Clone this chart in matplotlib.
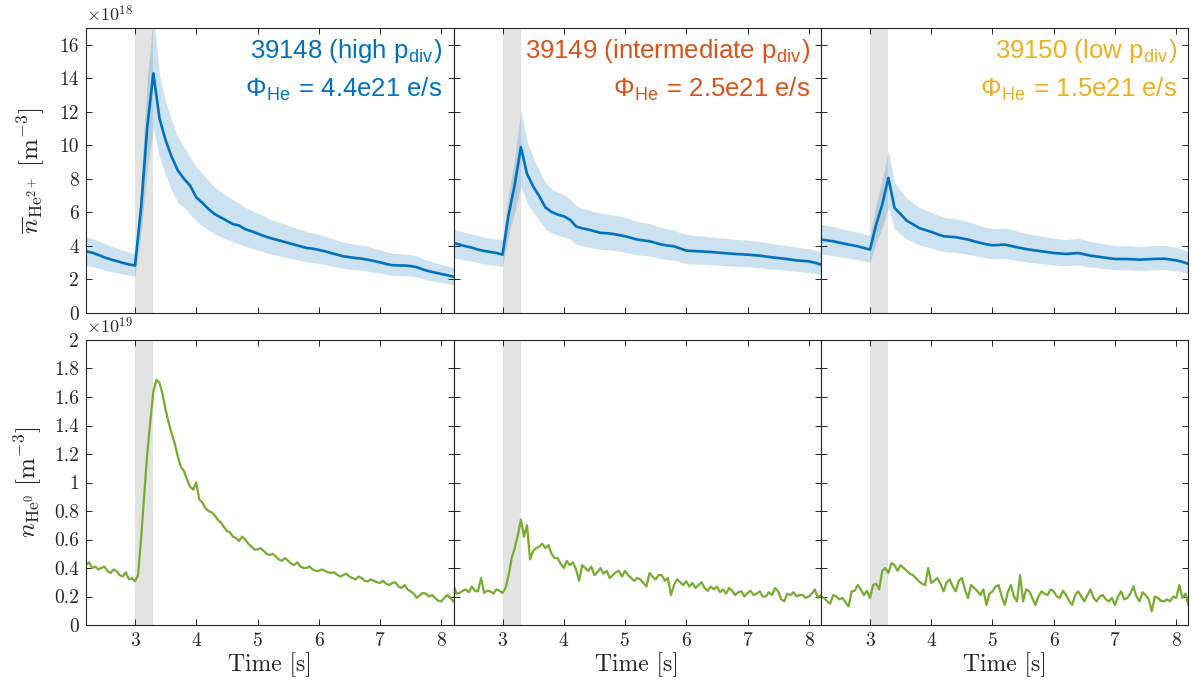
import numpy as np
import matplotlib
matplotlib.use("Agg")
import matplotlib.pyplot as plt

# ---------------- data ----------------
shots = ["39148", "39149", "39150"]
pdiv_labels = ["high", "intermediate", "low"]
flux_labels = ["4.4e21", "2.5e21", "1.5e21"]
text_colors = ["#0072BD", "#D95319", "#EDB120"]

t_start, t_end = 2.2, 8.2
puff_start, puff_end = 3.0, 3.3

# He2+ line-averaged density, units of 1e18 m^-3, sampled every 0.1 s from 2.2 s
he2_39148 = [3.68, 3.60, 3.47, 3.32, 3.20, 3.10, 2.99, 2.90, 2.83, 6.3, 11.1, 14.3, 11.6, 10.3, 9.3,
             8.5, 8.0, 7.6, 6.9, 6.57, 6.2, 5.9, 5.7, 5.5, 5.3, 5.22, 5.0, 4.88, 4.74, 4.6, 4.48,
             4.38, 4.28, 4.18, 4.08, 3.98, 3.88, 3.84, 3.76, 3.68, 3.58, 3.48, 3.38, 3.33, 3.28,
             3.24, 3.18, 3.10, 3.02, 2.93, 2.85, 2.84, 2.83, 2.80, 2.73, 2.60, 2.49, 2.41, 2.33,
             2.25, 2.17]
he2_39148_hi = [4.55, 4.45, 4.3, 4.15, 4.0, 3.88, 3.75, 3.63, 3.55, 7.9, 13.9, 17.8, 14.2, 12.6, 11.5,
                10.5, 9.9, 9.3, 8.7, 8.3, 7.9, 7.5, 7.25, 7.0, 6.75, 6.55, 6.3, 6.15, 5.95, 5.8, 5.6,
                5.48, 5.35, 5.22, 5.1, 4.98, 4.85, 4.78, 4.7, 4.58, 4.47, 4.35, 4.22, 4.15, 4.1,
                4.04, 3.97, 3.87, 3.77, 3.66, 3.56, 3.54, 3.52, 3.48, 3.4, 3.25, 3.12, 3.0, 2.9,
                2.8, 2.72]
he2_39148_lo = [2.85, 2.78, 2.68, 2.57, 2.48, 2.4, 2.32, 2.25, 2.2, 4.8, 8.6, 11.0, 9.3, 8.2, 7.3,
                6.6, 6.3, 5.9, 5.5, 5.2, 4.95, 4.7, 4.55, 4.38, 4.25, 4.12, 3.98, 3.87, 3.76, 3.64,
                3.53, 3.45, 3.37, 3.29, 3.21, 3.13, 3.05, 3.02, 2.97, 2.9, 2.82, 2.74, 2.66, 2.62,
                2.58, 2.55, 2.5, 2.44, 2.38, 2.31, 2.24, 2.23, 2.22, 2.2, 2.15, 2.05, 1.96, 1.9,
                1.83, 1.77, 1.7]

he2_39149 = [4.18, 4.08, 3.98, 3.90, 3.78, 3.70, 3.64, 3.58, 3.48, 5.87, 7.66, 9.9, 8.3, 7.56, 6.97,
             6.3, 6.03, 5.87, 5.77, 5.57, 5.17, 5.05, 4.98, 4.88, 4.78, 4.76, 4.72, 4.65, 4.58,
             4.48, 4.38, 4.33, 4.28, 4.18, 4.08, 4.02, 3.98, 3.85, 3.72, 3.70, 3.68, 3.66, 3.64,
             3.61, 3.58, 3.55, 3.52, 3.50, 3.48, 3.45, 3.42, 3.37, 3.32, 3.28, 3.24, 3.19, 3.14,
             3.11, 3.08, 3.0, 2.89]
he2_39149_hi = [5.0, 4.9, 4.8, 4.72, 4.6, 4.52, 4.46, 4.42, 4.35, 7.1, 9.3, 12.1, 10.2, 9.3, 8.5,
                7.8, 7.4, 7.2, 7.05, 6.8, 6.4, 6.25, 6.15, 6.05, 5.95, 5.9, 5.85, 5.78, 5.7, 5.58,
                5.46, 5.4, 5.33, 5.2, 5.08, 5.0, 4.95, 4.8, 4.68, 4.64, 4.6, 4.57, 4.54, 4.5, 4.47,
                4.43, 4.4, 4.37, 4.35, 4.3, 4.27, 4.2, 4.14, 4.08, 4.04, 3.98, 3.92, 3.88, 3.84,
                3.75, 3.65]
he2_39149_lo = [3.3, 3.22, 3.15, 3.08, 3.0, 2.93, 2.88, 2.83, 2.75, 4.6, 6.0, 7.6, 6.6, 6.0, 5.55,
                5.0, 4.8, 4.65, 4.55, 4.4, 4.1, 4.0, 3.95, 3.87, 3.8, 3.78, 3.75, 3.7, 3.63, 3.55,
                3.47, 3.43, 3.4, 3.31, 3.23, 3.18, 3.15, 3.05, 2.95, 2.93, 2.91, 2.9, 2.88, 2.86,
                2.83, 2.81, 2.79, 2.77, 2.75, 2.73, 2.7, 2.66, 2.62, 2.59, 2.56, 2.52, 2.48, 2.46,
                2.43, 2.37, 2.28]

he2_39150 = [4.38, 4.33, 4.28, 4.20, 4.12, 4.05, 3.98, 3.88, 3.78, 5.27, 6.47, 8.06, 6.27, 5.9, 5.5,
             5.3, 5.07, 4.95, 4.84, 4.70, 4.58, 4.55, 4.52, 4.45, 4.38, 4.28, 4.18, 4.10, 4.04,
             4.06, 4.08, 4.00, 3.92, 3.85, 3.78, 3.73, 3.68, 3.63, 3.58, 3.55, 3.52, 3.55, 3.58,
             3.50, 3.42, 3.37, 3.32, 3.27, 3.22, 3.22, 3.22, 3.20, 3.18, 3.20, 3.22, 3.23, 3.24,
             3.19, 3.14, 3.05, 2.92]
he2_39150_hi = [5.3, 5.22, 5.15, 5.05, 4.98, 4.9, 4.82, 4.72, 4.6, 6.5, 7.9, 9.7, 7.8, 7.3, 6.85,
                6.6, 6.3, 6.15, 6.0, 5.85, 5.7, 5.66, 5.62, 5.54, 5.45, 5.33, 5.2, 5.1, 5.03, 5.05,
                5.07, 4.98, 4.88, 4.8, 4.7, 4.64, 4.58, 4.52, 4.46, 4.42, 4.38, 4.42, 4.45, 4.36,
                4.26, 4.2, 4.13, 4.07, 4.01, 4.01, 4.01, 3.98, 3.96, 3.98, 4.01, 4.02, 4.03, 3.97,
                3.91, 3.8, 3.64]
he2_39150_lo = [3.5, 3.46, 3.42, 3.36, 3.3, 3.24, 3.18, 3.1, 3.02, 4.2, 5.1, 6.3, 5.0, 4.7, 4.4,
                4.24, 4.05, 3.96, 3.87, 3.76, 3.66, 3.64, 3.61, 3.56, 3.5, 3.42, 3.34, 3.28, 3.23,
                3.25, 3.26, 3.2, 3.14, 3.08, 3.02, 2.98, 2.94, 2.9, 2.86, 2.84, 2.82, 2.84, 2.86,
                2.8, 2.74, 2.7, 2.66, 2.62, 2.58, 2.58, 2.58, 2.56, 2.54, 2.56, 2.58, 2.58, 2.59,
                2.55, 2.51, 2.44, 2.34]

# He0 density, units of 1e19 m^-3, sampled every 0.05 s from 2.2 s
he0_39148 = [0.42, 0.44, 0.40, 0.41, 0.39, 0.40, 0.41, 0.38, 0.365, 0.39, 0.377, 0.35, 0.34, 0.37,
             0.32, 0.33, 0.306, 0.35, 0.61, 0.91, 1.20, 1.43, 1.64, 1.72, 1.70, 1.62, 1.51, 1.42,
             1.34, 1.27, 1.18, 1.11, 1.08, 1.02, 0.97, 0.95, 1.00, 0.88, 0.86, 0.82, 0.80, 0.79,
             0.77, 0.74, 0.72, 0.69, 0.66, 0.65, 0.62, 0.61, 0.59, 0.62, 0.60, 0.57, 0.55, 0.53,
             0.53, 0.54, 0.52, 0.50, 0.49, 0.50, 0.48, 0.46, 0.45, 0.47, 0.45, 0.43, 0.42, 0.44,
             0.41, 0.40, 0.40, 0.41, 0.39, 0.38, 0.38, 0.39, 0.38, 0.37, 0.365, 0.37, 0.353, 0.34,
             0.35, 0.36, 0.34, 0.33, 0.32, 0.34, 0.33, 0.31, 0.306, 0.32, 0.31, 0.30, 0.295, 0.31,
             0.29, 0.28, 0.295, 0.30, 0.27, 0.26, 0.28, 0.25, 0.236, 0.22, 0.19, 0.21, 0.225, 0.22,
             0.20, 0.21, 0.19, 0.17, 0.166, 0.19, 0.21, 0.19, 0.166]
he0_39149 = [0.28, 0.22, 0.225, 0.24, 0.25, 0.23, 0.27, 0.24, 0.236, 0.33, 0.225, 0.24, 0.236, 0.22,
             0.25, 0.24, 0.225, 0.26, 0.35, 0.47, 0.54, 0.63, 0.74, 0.62, 0.70, 0.46, 0.52, 0.54,
             0.55, 0.57, 0.54, 0.56, 0.50, 0.47, 0.47, 0.43, 0.40, 0.45, 0.42, 0.44, 0.39, 0.31,
             0.42, 0.40, 0.38, 0.41, 0.35, 0.37, 0.40, 0.36, 0.38, 0.33, 0.35, 0.37, 0.38, 0.34,
             0.38, 0.35, 0.33, 0.31, 0.33, 0.32, 0.295, 0.27, 0.365, 0.34, 0.32, 0.35, 0.35, 0.31,
             0.33, 0.21, 0.28, 0.32, 0.30, 0.28, 0.306, 0.27, 0.295, 0.26, 0.28, 0.30, 0.26, 0.24,
             0.27, 0.25, 0.27, 0.23, 0.25, 0.22, 0.26, 0.24, 0.21, 0.23, 0.236, 0.20, 0.225, 0.24,
             0.21, 0.22, 0.236, 0.20, 0.20, 0.23, 0.21, 0.26, 0.236, 0.18, 0.166, 0.22, 0.21, 0.23,
             0.20, 0.21, 0.21, 0.19, 0.20, 0.22, 0.25, 0.19, 0.21]
he0_39150 = [0.20, 0.19, 0.166, 0.15, 0.21, 0.20, 0.18, 0.19, 0.16, 0.13, 0.236, 0.24, 0.28, 0.25,
             0.21, 0.24, 0.19, 0.28, 0.29, 0.25, 0.38, 0.40, 0.365, 0.435, 0.42, 0.38, 0.42, 0.40,
             0.38, 0.36, 0.35, 0.33, 0.306, 0.29, 0.28, 0.40, 0.295, 0.31, 0.33, 0.29, 0.236, 0.30,
             0.32, 0.27, 0.236, 0.31, 0.33, 0.25, 0.19, 0.28, 0.26, 0.24, 0.21, 0.25, 0.14, 0.22,
             0.236, 0.27, 0.28, 0.20, 0.14, 0.23, 0.28, 0.20, 0.166, 0.35, 0.166, 0.25, 0.236, 0.19,
             0.14, 0.20, 0.236, 0.22, 0.21, 0.25, 0.236, 0.20, 0.19, 0.24, 0.21, 0.17, 0.14, 0.21,
             0.236, 0.20, 0.166, 0.21, 0.25, 0.19, 0.166, 0.20, 0.21, 0.18, 0.166, 0.19, 0.14, 0.20,
             0.236, 0.18, 0.19, 0.22, 0.27, 0.20, 0.166, 0.23, 0.21, 0.18, 0.096, 0.20, 0.19, 0.17,
             0.166, 0.18, 0.166, 0.20, 0.19, 0.28, 0.19, 0.22, 0.14]

top_yticks = [0, 2, 4, 6, 8, 10, 12, 14, 16]
bot_yticks = [0, 0.2, 0.4, 0.6, 0.8, 1.0, 1.2, 1.4, 1.6, 1.8, 2.0]
xticks = [3, 4, 5, 6, 7, 8]

he2_lines = [he2_39148, he2_39149, he2_39150]
he2_hi = [he2_39148_hi, he2_39149_hi, he2_39150_hi]
he2_lo = [he2_39148_lo, he2_39149_lo, he2_39150_lo]
he0_lines = [he0_39148, he0_39149, he0_39150]

# ---------------- style ----------------
plt.rcParams["font.family"] = "serif"
plt.rcParams["font.serif"] = ["cmr10", "DejaVu Serif"]
plt.rcParams["mathtext.fontset"] = "cm"
plt.rcParams["axes.formatter.use_mathtext"] = True
plt.rcParams["axes.unicode_minus"] = False

BLUE = "#0072BD"
GREEN = "#77AC30"
GREY = "#E3E3E3"
AXC = "#262626"

W, H = 1192, 687
fig = plt.figure(figsize=(W / 100, H / 100), dpi=100)

col_left = [86, 453.5, 821]
col_w = 367.5
row_top = [28, 340]
row_h = 285


def fmt(v):
    return f"{v:g}"


for i in range(3):
    for r in range(2):
        x0 = col_left[i]
        y0 = row_top[r]
        ax = fig.add_axes([x0 / W, 1 - (y0 + row_h) / H, col_w / W, row_h / H])
        ax.axvspan(puff_start, puff_end, color=GREY, lw=0, zorder=0)
        if r == 0:
            vals = he2_lines[i]
            t = np.linspace(t_start, t_end, len(vals))
            tb = np.linspace(t_start, t_end, len(he2_hi[i]))
            ax.fill_between(tb, he2_lo[i], he2_hi[i], color=BLUE, alpha=0.2, lw=0, zorder=1)
            ax.plot(t, vals, color=BLUE, lw=1.9, zorder=2)
            ax.set_ylim(0, 17)
            ax.set_yticks(top_yticks)
            ax.set_xticklabels([])
        else:
            vals = he0_lines[i]
            t = np.linspace(t_start, t_end, len(vals))
            ax.plot(t, vals, color=GREEN, lw=1.6, zorder=2)
            ax.set_ylim(0, 2)
            ax.set_yticks(bot_yticks)
        ax.set_xlim(t_start, t_end)
        ax.set_xticks(xticks)
        ax.tick_params(direction="in", top=True, right=True, length=4, width=0.7,
                       colors=AXC, labelsize=14, pad=5)
        for s in ax.spines.values():
            s.set_color(AXC)
            s.set_linewidth(0.8)
        if r == 1:
            ax.set_xticklabels([fmt(v) for v in xticks])
            ax.set_xlabel("Time [s]", fontsize=17, color=AXC, labelpad=2)
        if i == 0:
            if r == 0:
                ax.set_yticklabels([fmt(v) for v in top_yticks])
                ax.set_ylabel(r"$\overline{n}_{\mathrm{He}^{2+}}\ [\mathrm{m}^{-3}]$",
                              fontsize=18, color=AXC)
                ax.yaxis.set_label_coords(-0.105, 0.5)
                ax.text(0.0, 1.012, r"$\times10^{18}$", transform=ax.transAxes,
                        fontsize=13, color=AXC, ha="left", va="bottom")
            else:
                ax.set_yticklabels([fmt(v) for v in bot_yticks])
                ax.set_ylabel(r"$n_{\mathrm{He}^{0}}\ [\mathrm{m}^{-3}]$",
                              fontsize=18, color=AXC)
                ax.yaxis.set_label_coords(-0.115, 0.5)
                ax.text(0.0, 1.012, r"$\times10^{19}$", transform=ax.transAxes,
                        fontsize=13, color=AXC, ha="left", va="bottom")
        else:
            ax.set_yticklabels([])
        if r == 0:
            c = text_colors[i]
            ax.text(0.97, 0.895, f"{shots[i]} ({pdiv_labels[i]} p" + r"$_{\mathregular{div}}$)",
                    transform=ax.transAxes, ha="right", va="baseline", color=c,
                    fontsize=18.5, family="Liberation Sans", zorder=5)
            ax.text(0.97, 0.758, "Φ" + r"$_{\mathregular{He}}$" + f" = {flux_labels[i]} e/s",
                    transform=ax.transAxes, ha="right", va="baseline", color=c,
                    fontsize=18.5, family="Liberation Sans", zorder=5)

fig.savefig("out.png", dpi=100)
